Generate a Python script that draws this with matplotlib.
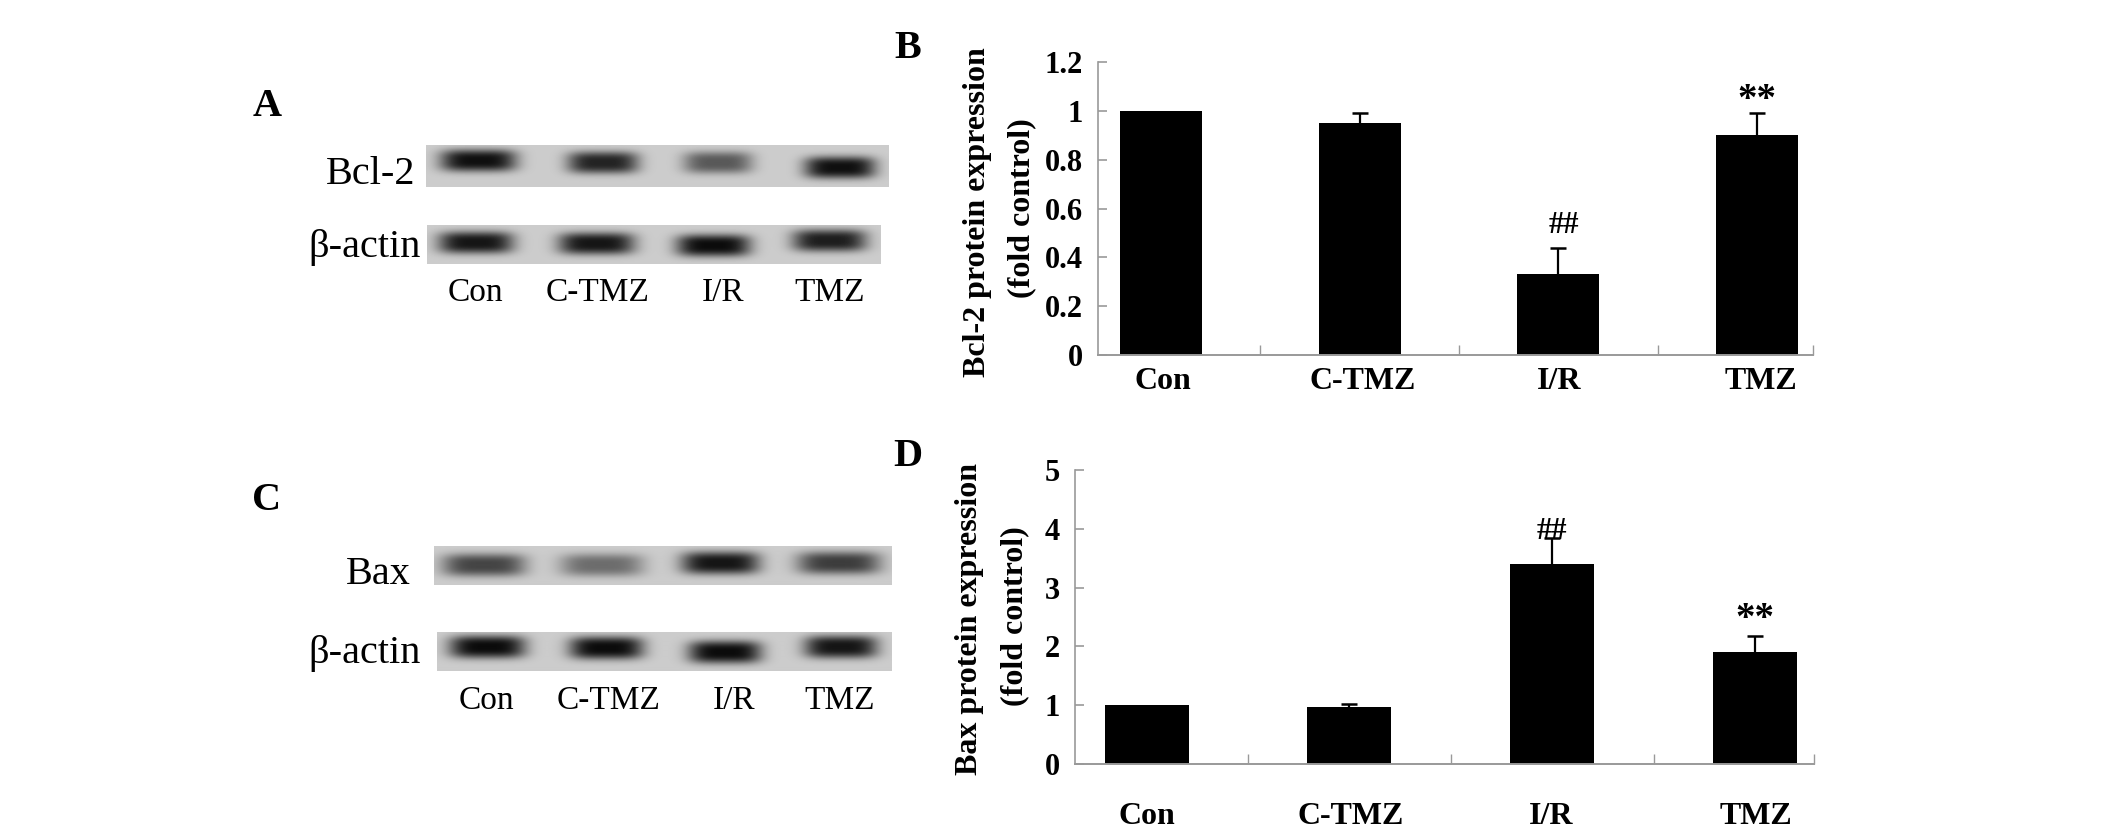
import numpy as np
import matplotlib
matplotlib.use('Agg')
import matplotlib.pyplot as plt

W, H = 2126, 835
SERIF = 'Liberation Serif'

categories = ['Con', 'C-TMZ', 'I/R', 'TMZ']

# bar charts
bcl2_values = [1.0, 0.95, 0.33, 0.90]
bcl2_err = [0.0, 0.04, 0.11, 0.09]
bcl2_yticks = [0, 0.2, 0.4, 0.6, 0.8, 1, 1.2]
bcl2_ylabels = ['0', '0.2', '0.4', '0.6', '0.8', '1', '1.2']

bax_values = [1.0, 0.97, 3.4, 1.9]
bax_err = [0.0, 0.05, 0.44, 0.28]
bax_yticks = [0, 1, 2, 3, 4, 5]
bax_ylabels = ['0', '1', '2', '3', '4', '5']

# blots: how dark each band looks, lane by lane
bcl2_bands = [0.95, 0.85, 0.58, 0.95]
actin_a_bands = [0.92, 0.92, 0.97, 0.88]
bax_bands = [0.68, 0.48, 0.92, 0.72]
actin_c_bands = [0.97, 0.97, 0.97, 0.92]

fig = plt.figure(figsize=(W / 100, H / 100), dpi=100, facecolor='white')


def px_axes(x0, y0, x1, y1):
    return fig.add_axes([x0 / W, 1 - y1 / H, (x1 - x0) / W, (y1 - y0) / H])


def label(x, y, s, size, weight='normal', ha='center', rotation=0):
    fig.text(x / W, 1 - y / H, s, fontsize=size, fontweight=weight, ha=ha, va='center',
             rotation=rotation, family=SERIF, color='black')


def blot(box, lanes, centers, levels):
    x0, y0, x1, y1 = box
    ax = px_axes(x0, y0, x1, y1)
    xx, yy = np.meshgrid(np.arange(x0, x1), np.arange(y0, y1))
    img = np.full(xx.shape, 0.80)
    for (a, b), cy, d in zip(lanes, centers, levels):
        mx = (a + b) / 2
        band = np.exp(-((np.abs(xx - mx) / ((b - a) / 2)) ** 4) - (np.abs(yy - cy) / 11.0) ** 3)
        img -= band * d * 0.78
    ax.imshow(np.clip(img, 0.03, 1), cmap='gray', vmin=0, vmax=1, aspect='auto', interpolation='bilinear')
    ax.axis('off')


def bars(box, centers_px, values, err, yticks, ylabels, ymax, barw):
    x0, y0, x1, y1 = box
    step = (centers_px[-1] - centers_px[0]) / 3
    ax = px_axes(x0, y0, x1, y1)
    xpos = np.arange(len(values))
    ax.bar(xpos, values, width=barw / step, color='black')
    # only the upper half of the error bar shows, and Con has none
    for x, v, e in zip(xpos, values, err):
        if e > 0:
            ax.vlines(x, v, v + e, color='black', linewidth=1.6)
            ax.plot([x], [v + e], marker='_', markersize=12, markeredgewidth=1.8, color='black')
    xmin = (x0 - centers_px[0]) / step
    xmax = (x1 - centers_px[0]) / step
    ax.set_xlim(xmin, xmax)
    ax.set_ylim(0, ymax)
    ax.spines['top'].set_visible(False)
    ax.spines['right'].set_visible(False)
    ax.spines['left'].set_color('#999999')
    ax.spines['bottom'].set_color('#999999')
    ax.spines['left'].set_linewidth(1.2)
    ax.spines['bottom'].set_linewidth(1.4)
    ax.set_yticks(yticks)
    ax.set_yticklabels(ylabels, fontsize=22, fontweight='bold', family=SERIF)
    ax.tick_params(axis='y', direction='in', length=6.5, width=1.2, color='#999999', pad=11)
    ax.set_xticks(xpos)
    ax.set_xticklabels([])
    ax.set_xticks([0.5, 1.5, 2.5, xmax], minor=True)
    ax.tick_params(axis='x', which='major', length=0)
    ax.tick_params(axis='x', which='minor', direction='in', length=7, width=1, color='#999999')
    ax.set_facecolor('none')
    return ax


# panel letters
label(267, 106, 'A', 29, 'bold')
label(908, 48, 'B', 29, 'bold')
label(267, 501, 'C', 29, 'bold')
label(908, 456, 'D', 29, 'bold')

# panel A
blot((426, 145, 889, 187), [(440, 516), (567, 638), (683, 752), (804, 875)], [160, 162, 162, 167], bcl2_bands)
blot((427, 225, 881, 264), [(438, 513), (558, 634), (676, 750), (792, 866)], [242, 243, 245, 240], actin_a_bands)
label(415, 175, 'Bcl-2', 29, ha='right')
label(421, 247, 'β-actin', 29, ha='right')
for x, c in zip([475, 598, 723, 830], categories):
    label(x, 293, c, 24)

# panel C
blot((434, 546, 892, 585), [(442, 525), (560, 643), (681, 759), (797, 880)], [565, 565, 563, 563], bax_bands)
blot((437, 632, 892, 671), [(449, 525), (569, 643), (688, 761), (804, 877)], [647, 648, 652, 647], actin_c_bands)
label(411, 574, 'Bax', 29, ha='right')
label(421, 654, 'β-actin', 29, ha='right')
for x, c in zip([486, 609, 734, 840], categories):
    label(x, 701, c, 24)

# panel B
ax_b = bars((1098, 62, 1813, 355), [1161, 1360, 1558, 1757], bcl2_values, bcl2_err,
            bcl2_yticks, bcl2_ylabels, 1.2, 82)
for x, c in zip([1163, 1363, 1559, 1761], categories):
    label(x, 381, c, 23, 'bold')
label(977, 212, 'Bcl-2 protein expression', 23, 'bold', rotation=90)
label(1022, 208, '(fold control)', 23, 'bold', rotation=90)
ax_b.text(2.03, 0.53, '##', fontsize=22, fontweight='bold', family=SERIF, ha='center', va='center')
ax_b.text(3, 1.042, '**', fontsize=28, fontweight='bold', family=SERIF, ha='center', va='center')

# panel D
ax_d = bars((1075, 470, 1814, 764), [1146.5, 1349, 1552, 1755], bax_values, bax_err,
            bax_yticks, bax_ylabels, 5, 84)
for x, c in zip([1147, 1351, 1551, 1756], categories):
    label(x, 817, c, 23, 'bold')
label(970, 619, 'Bax protein expression', 23, 'bold', rotation=90)
label(1015, 616, '(fold control)', 23, 'bold', rotation=90)
ax_d.text(2, 3.95, '##', fontsize=22, fontweight='bold', family=SERIF, ha='center', va='center')
ax_d.text(3, 2.46, '**', fontsize=28, fontweight='bold', family=SERIF, ha='center', va='center')

fig.savefig('out.png', dpi=100)
